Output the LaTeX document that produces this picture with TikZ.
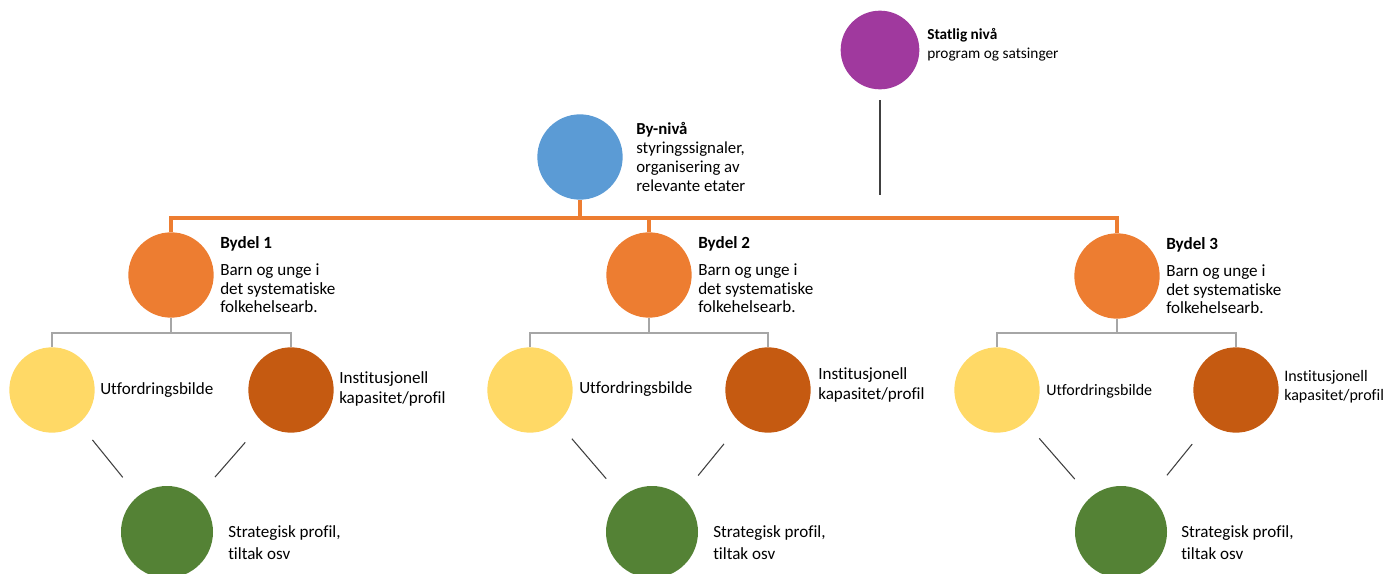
\documentclass[tikz,border=0pt]{standalone}
\usepackage{fontspec}
\setmainfont[Ligatures=NoCommon]{Carlito}
\usepackage{tikz}
\usetikzlibrary{positioning, calc}
\definecolor{statecolor}{RGB}{160,57,158}
\definecolor{citycolor}{RGB}{91,155,213}
\definecolor{districtcolor}{RGB}{237,125,49}
\definecolor{challengecolor}{RGB}{255,217,102}
\definecolor{capacitycolor}{RGB}{197,90,17}
\definecolor{strategycolor}{RGB}{84,130,53}
\definecolor{branchcolor}{RGB}{166,166,166}

\begin{document}
\begin{tikzpicture}[
    x=0.75pt, y=-0.75pt,
    dot/.style={circle, minimum size=64pt, inner sep=0pt},
    info/.style={anchor=west, align=left, inner sep=0pt, font=\fontsize{12.8}{14}\selectfont},
    mainline/.style={draw=districtcolor, line width=2.4pt},
    subline/.style={draw=branchcolor, line width=1.3pt},
    linkline/.style={draw=black!75, line width=0.8pt}
]
    \useasboundingbox (0,0) rectangle (1399,574);

    % Top levels
    \node[dot, fill=statecolor, minimum size=59pt] (statlig) at (880,50) {};
    \node[info, font=\fontsize{11.5}{14.2}\selectfont] (statligtxt) at (927,45) {\textbf{Statlig nivå}\\program og satsinger};
    \node[dot, fill=citycolor] (bynivaa) at (580,157) {};
    \node[info, font=\fontsize{12.6}{14.2}\selectfont] (bynivaatxt) at (636,157) {\textbf{By-nivå}\\styringssignaler,\\organisering av\\relevante etater};

    % Bydeler
    \node[dot, fill=districtcolor] (bydel1) at (171,275) {};
    \node[info] (bydel1txt) at (220,275) {\textbf{Bydel 1}\\[6pt]Barn og unge i\\det systematiske\\folkehelsearb.};
    \node[dot, fill=districtcolor] (bydel2) at (649,275) {};
    \node[info] (bydel2txt) at (698,275) {\textbf{Bydel 2}\\[6pt]Barn og unge i\\det systematiske\\folkehelsearb.};
    \node[dot, fill=districtcolor] (bydel3) at (1117,276) {};
    \node[info] (bydel3txt) at (1166,276) {\textbf{Bydel 3}\\[6pt]Barn og unge i\\det systematiske\\folkehelsearb.};

    % Bydel 1
    \node[dot, fill=challengecolor] (utf1) at (52,390) {};
    \node[info] (utf1txt) at (100,390) {Utfordringsbilde};
    \node[dot, fill=capacitycolor] (inst1) at (291,390) {};
    \node[info, font=\fontsize{12.8}{15}\selectfont] (inst1txt) at (339,389) {Institusjonell\\kapasitet/profil};
    \node[dot, fill=strategycolor, minimum size=69pt] (strat1) at (167,532) {};
    \node[info, font=\fontsize{12.8}{16.5}\selectfont] (strat1txt) at (228,543) {Strategisk profil,\\tiltak osv};

    % Bydel 2
    \node[dot, fill=challengecolor] (utf2) at (530,390) {};
    \node[info] (utf2txt) at (579,389) {Utfordringsbilde};
    \node[dot, fill=capacitycolor] (inst2) at (768,390) {};
    \node[info, font=\fontsize{12.8}{15}\selectfont] (inst2txt) at (818,385) {Institusjonell\\kapasitet/profil};
    \node[dot, fill=strategycolor, minimum size=69pt] (strat2) at (652,532) {};
    \node[info, font=\fontsize{12.8}{16.5}\selectfont] (strat2txt) at (713,543) {Strategisk profil,\\tiltak osv};

    % Bydel 3
    \node[dot, fill=challengecolor] (utf3) at (997,390) {};
    \node[info, font=\fontsize{12}{14}\selectfont] (utf3txt) at (1046,391) {Utfordringsbilde};
    \node[dot, fill=capacitycolor] (inst3) at (1236,390) {};
    \node[info, font=\fontsize{12}{14}\selectfont] (inst3txt) at (1284,387) {Institusjonell\\kapasitet/profil};
    \node[dot, fill=strategycolor, minimum size=69pt] (strat3) at (1121,532) {};
    \node[info, font=\fontsize{12.8}{16.5}\selectfont] (strat3txt) at (1181,543) {Strategisk profil,\\tiltak osv};

    % Orange tree
    \coordinate (bar) at (0,218);
    \draw[mainline] (bydel1.north) -- (bydel1.north |- bar) -- (bydel3.north |- bar) -- (bydel3.north);
    \draw[mainline] (bynivaa.south) -- (bynivaa.south |- bar);
    \draw[mainline] (bydel2.north) -- (bydel2.north |- bar);
    \draw[linkline, shorten <=8pt, shorten >=17pt] (statlig.south) -- (statlig.south |- bar);

    % Grey branches
    \coordinate (fork) at (0,333);
    \draw[subline] (utf1.north) -- (utf1.north |- fork) -- (inst1.north |- fork) -- (inst1.north);
    \draw[subline] (bydel1.south) -- (bydel1.south |- fork);
    \draw[subline] (utf2.north) -- (utf2.north |- fork) -- (inst2.north |- fork) -- (inst2.north);
    \draw[subline] (bydel2.south) -- (bydel2.south |- fork);
    \draw[subline] (utf3.north) -- (utf3.north |- fork) -- (inst3.north |- fork) -- (inst3.north);
    \draw[subline] (bydel3.south) -- (bydel3.south |- fork);

    % Links to strategy
    \draw[linkline, shorten <=16pt, shorten >=18pt] (utf1) -- (strat1);
    \draw[linkline, shorten <=20pt, shorten >=20pt] (inst1) -- (strat1);
    \draw[linkline, shorten <=16pt, shorten >=18pt] (utf2) -- (strat2);
    \draw[linkline, shorten <=20pt, shorten >=20pt] (inst2) -- (strat2);
    \draw[linkline, shorten <=16pt, shorten >=18pt] (utf3) -- (strat3);
    \draw[linkline, shorten <=20pt, shorten >=20pt] (inst3) -- (strat3);
\end{tikzpicture}
\end{document}
